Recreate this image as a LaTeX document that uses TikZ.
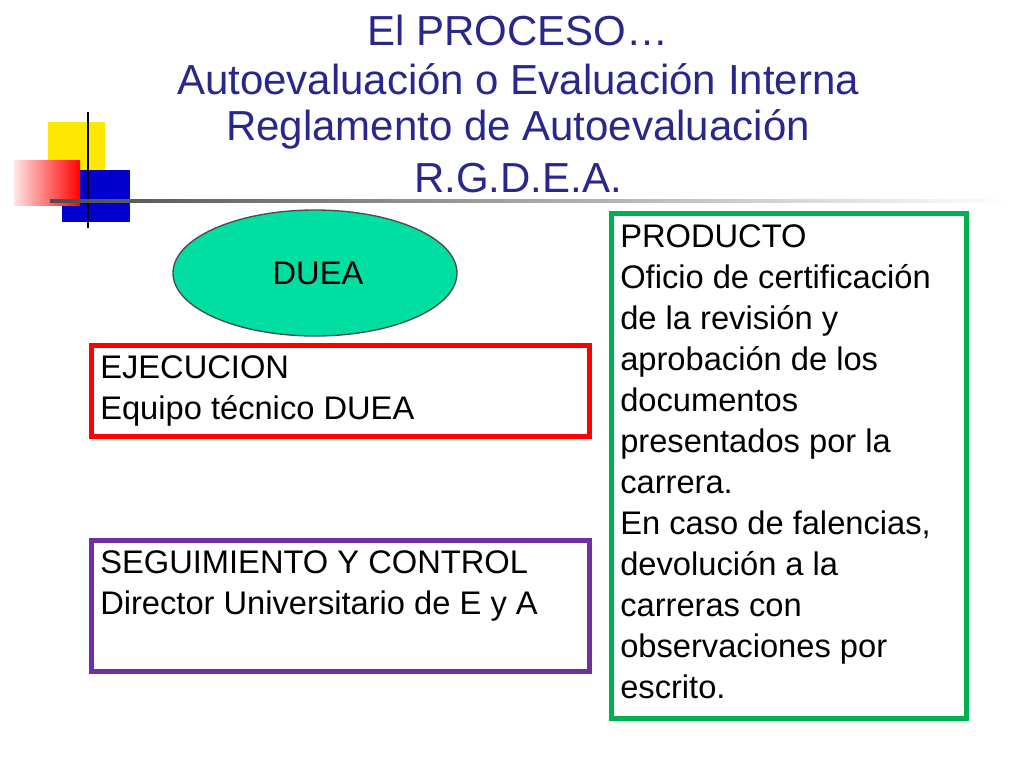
\documentclass[tikz,border=0pt]{standalone}
\usepackage{fontspec}
\setmainfont{Liberation Sans}
\usetikzlibrary{shapes.geometric}
\definecolor{titleblue}{RGB}{40,40,140}
\definecolor{dueagreen}{RGB}{0,222,162}
\definecolor{boxred}{RGB}{255,0,0}
\definecolor{boxpurple}{RGB}{112,48,160}
\definecolor{boxgreen}{RGB}{0,176,80}
\tikzset{
  framebox/.style={draw, line width=3.5pt, rectangle, anchor=north west, inner sep=0pt},
  boxtext/.style={anchor=north west, align=left, font=\fontsize{24.5}{30.75}\selectfont, inner sep=0pt},
  titleline/.style={text=titleblue, font=\fontsize{31.5}{34}\selectfont}
}
\begin{document}
\begin{tikzpicture}[x=0.75pt,y=-0.75pt]
  \useasboundingbox (0,0) rectangle (1024,768);
  % decoration
  \fill[yellow!90!orange] (48,122) rectangle (105,178);
  \fill[blue!80!black] (62,170) rectangle (130,222);
  \shade[left color=red!10, right color=red] (14,160) rectangle (80,205);
  \draw[black, line width=1.5pt] (88,112) -- (88,228);
  \shade[left color=black!70, right color=white] (50,199) rectangle (1010,202);
  % title
  \node[titleline] (t1) at (518,30) {El PROCESO…};
  \node[titleline] (t2) at (518,79) {Autoevaluación o Evaluación Interna};
  \node[titleline] (t3) at (518,129) {Reglamento de Autoevaluación};
  \node[titleline] (t4) at (518,178) {R.G.D.E.A.};
  % nodes
  \node[ellipse, draw=black!70, line width=1pt, fill=dueagreen, minimum width=284*0.75pt, minimum height=126*0.75pt] (duea) at (315,273) {};
  \node[boxtext, anchor=center] (dueatxt) at (318,273) {DUEA};
  \node[framebox, draw=boxred, minimum width=498*0.75pt, minimum height=91*0.75pt] (ejec) at (89,343) {};
  \node[boxtext] (ejectxt) at (100,355) {EJECUCION\\Equipo técnico DUEA};
  \node[framebox, draw=boxpurple, minimum width=498*0.75pt, minimum height=131*0.75pt] (seg) at (89,538) {};
  \node[boxtext] (segtxt) at (100,550) {SEGUIMIENTO Y CONTROL\\Director Universitario de E y A};
  \node[framebox, draw=boxgreen, minimum width=355*0.75pt, minimum height=505*0.75pt] (prod) at (609,211) {};
  \node[boxtext] (prodtxt) at (620,224) {PRODUCTO\\Oficio de certificación\\de la revisión y\\aprobación de los\\documentos\\presentados por la\\carrera.\\En caso de falencias,\\devolución a la\\carreras con\\observaciones por\\escrito.};
\end{tikzpicture}
\end{document}
